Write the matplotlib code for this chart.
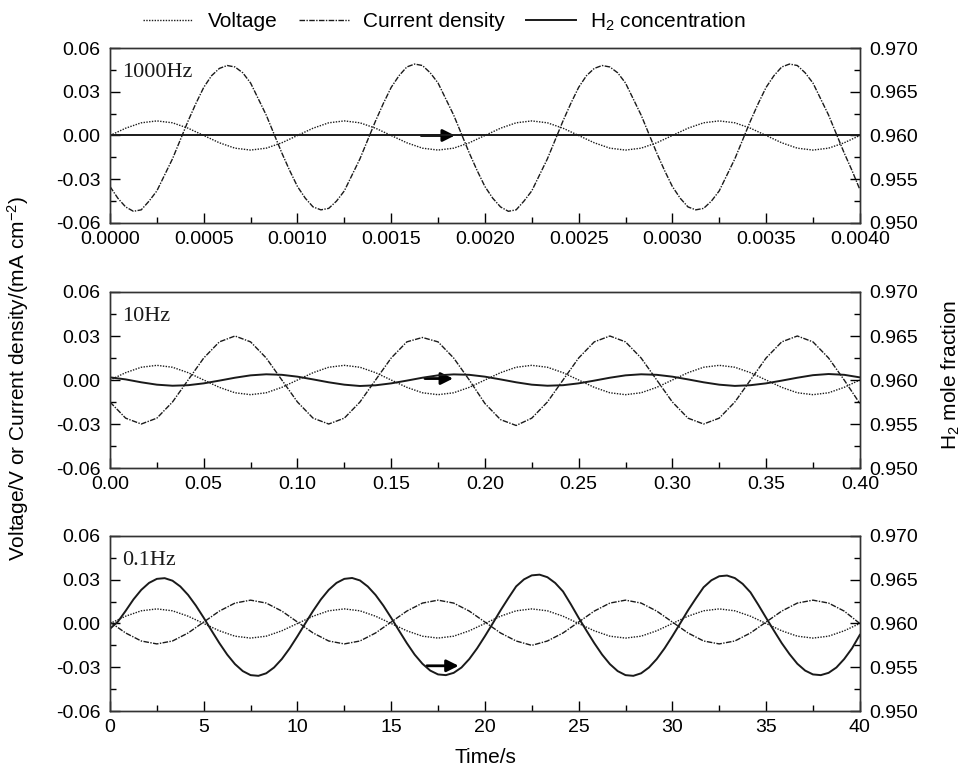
import matplotlib
matplotlib.use("Agg")
import matplotlib.pyplot as plt
import numpy as np
from matplotlib.ticker import MultipleLocator, FormatStrFormatter

plt.rcParams["font.family"] = ["Liberation Sans", "DejaVu Sans"]
plt.rcParams["mathtext.fontset"] = "custom"
plt.rcParams["mathtext.rm"] = "Liberation Sans"
plt.rcParams["mathtext.it"] = "Liberation Sans:italic"
plt.rcParams["axes.unicode_minus"] = False

# ---- data ----
panel_labels = ["1000Hz", "10Hz", "0.1Hz"]
# 12 samples per period (4 periods per panel)
t_1000 = np.linspace(0, 0.004, 49)
t_10 = np.linspace(0, 0.4, 49)
t_01 = np.linspace(0, 40, 49)
# 24 samples per period for the large, smooth curves
t_1000_fine = np.linspace(0, 0.004, 97)
t_01_fine = np.linspace(0, 40, 97)

voltage = [0.0, 0.005, 0.0087, 0.010, 0.0087, 0.005, 0.0, -0.005, -0.0087, -0.010, -0.0087, -0.005,
           0.0, 0.005, 0.0087, 0.010, 0.0087, 0.005, 0.0, -0.005, -0.0087, -0.010, -0.0087, -0.005,
           0.0, 0.005, 0.0087, 0.010, 0.0087, 0.005, 0.0, -0.005, -0.0087, -0.010, -0.0087, -0.005,
           0.0, 0.005, 0.0087, 0.010, 0.0087, 0.005, 0.0, -0.005, -0.0087, -0.010, -0.0087, -0.005,
           0.0]

cd_1000 = [-0.035, -0.043, -0.049, -0.052, -0.051, -0.045, -0.038, -0.027, -0.016, -0.003, 0.010, 0.022,
           0.033, 0.041, 0.046, 0.048, 0.047, 0.043, 0.036, 0.025, 0.014, 0.001, -0.012, -0.024,
           -0.035, -0.043, -0.049, -0.051, -0.050, -0.045, -0.038, -0.027, -0.016, -0.003, 0.010, 0.022,
           0.033, 0.041, 0.047, 0.049, 0.048, 0.043, 0.036, 0.025, 0.014, 0.001, -0.012, -0.024,
           -0.035, -0.043, -0.049, -0.052, -0.051, -0.045, -0.038, -0.027, -0.016, -0.003, 0.010, 0.022,
           0.033, 0.041, 0.046, 0.048, 0.047, 0.043, 0.036, 0.025, 0.014, 0.001, -0.012, -0.024,
           -0.035, -0.043, -0.049, -0.051, -0.050, -0.045, -0.038, -0.027, -0.016, -0.003, 0.010, 0.022,
           0.033, 0.041, 0.047, 0.049, 0.048, 0.043, 0.036, 0.025, 0.014, 0.001, -0.012, -0.024,
           -0.037]
h2_1000 = [0.960, 0.960, 0.960, 0.960, 0.960, 0.960, 0.960, 0.960, 0.960, 0.960, 0.960, 0.960,
           0.960, 0.960, 0.960, 0.960, 0.960, 0.960, 0.960, 0.960, 0.960, 0.960, 0.960, 0.960,
           0.960, 0.960, 0.960, 0.960, 0.960, 0.960, 0.960, 0.960, 0.960, 0.960, 0.960, 0.960,
           0.960, 0.960, 0.960, 0.960, 0.960, 0.960, 0.960, 0.960, 0.960, 0.960, 0.960, 0.960,
           0.960]

cd_10 = [-0.015, -0.026, -0.030, -0.026, -0.015, 0.000, 0.015, 0.026, 0.030, 0.026, 0.015, 0.000,
         -0.015, -0.026, -0.030, -0.026, -0.015, 0.000, 0.015, 0.026, 0.029, 0.026, 0.015, 0.000,
         -0.016, -0.027, -0.031, -0.026, -0.015, 0.000, 0.015, 0.026, 0.030, 0.026, 0.015, 0.000,
         -0.015, -0.026, -0.030, -0.026, -0.015, 0.000, 0.015, 0.026, 0.030, 0.026, 0.015, 0.000,
         -0.016]
h2_10 = [0.96030, 0.96007, 0.95974, 0.95947, 0.95935, 0.95941, 0.95962, 0.95993, 0.96026, 0.96053, 0.96065, 0.96059,
         0.96038, 0.96007, 0.95974, 0.95947, 0.95932, 0.95940, 0.95962, 0.95993, 0.96026, 0.96053, 0.96064, 0.96059,
         0.96038, 0.96007, 0.95974, 0.95947, 0.95935, 0.95941, 0.95962, 0.95993, 0.96026, 0.96053, 0.96065, 0.96059,
         0.96038, 0.96007, 0.95974, 0.95947, 0.95933, 0.95941, 0.95962, 0.95993, 0.96026, 0.96055, 0.96068, 0.96059,
         0.96030]

cd_01 = [0.001, -0.0065, -0.012, -0.014, -0.012, -0.0065, 0.001, 0.0085, 0.014, 0.016, 0.014, 0.0085,
         0.001, -0.0065, -0.012, -0.014, -0.012, -0.0065, 0.001, 0.0085, 0.014, 0.016, 0.014, 0.0085,
         0.001, -0.0065, -0.012, -0.015, -0.012, -0.0065, 0.001, 0.0085, 0.014, 0.016, 0.014, 0.0085,
         0.001, -0.0065, -0.012, -0.014, -0.012, -0.0065, 0.001, 0.0085, 0.014, 0.016, 0.014, 0.0085,
         0.000]
h2_01 = [0.95940, 0.96020, 0.96144, 0.96275, 0.96384, 0.96464, 0.96510, 0.96518, 0.96489, 0.96423, 0.96326, 0.96204,
         0.96065, 0.95919, 0.95776, 0.95645, 0.95536, 0.95456, 0.95410, 0.95402, 0.95431, 0.95497, 0.95594, 0.95716,
         0.95855, 0.96001, 0.96144, 0.96275, 0.96384, 0.96464, 0.96510, 0.96520, 0.96492, 0.96423, 0.96326, 0.96204,
         0.96065, 0.95919, 0.95776, 0.95645, 0.95540, 0.95462, 0.95418, 0.95410, 0.95436, 0.95497, 0.95594, 0.95716,
         0.95855, 0.96001, 0.96150, 0.96290, 0.96424, 0.96504, 0.96550, 0.96558, 0.96529, 0.96463, 0.96366, 0.96220,
         0.96065, 0.95919, 0.95776, 0.95645, 0.95536, 0.95456, 0.95410, 0.95402, 0.95431, 0.95497, 0.95594, 0.95716,
         0.95855, 0.96001, 0.96150, 0.96285, 0.96414, 0.96494, 0.96540, 0.96548, 0.96519, 0.96453, 0.96356, 0.96214,
         0.96065, 0.95919, 0.95776, 0.95650, 0.95540, 0.95462, 0.95418, 0.95410, 0.95436, 0.95497, 0.95594, 0.95716,
         0.95870]

v_times = [t_1000, t_10, t_01]
cd_times = [t_1000_fine, t_10, t_01]
h2_times = [t_1000, t_10, t_01_fine]
cds = [cd_1000, cd_10, cd_01]
h2s = [h2_1000, h2_10, h2_01]

# arrow (start x, end x, y on left axis) pointing to the H2 curve
arrow_x0 = [0.00166, 0.168, 16.9]
arrow_x1 = [0.00184, 0.183, 18.6]
arrow_y = [0.0, 0.001, -0.029]

x_lims = [(0, 0.004), (0, 0.4), (0, 40)]
x_major = [0.0005, 0.05, 5]
x_fmt = ["%.4f", "%.2f", "%d"]

fig = plt.figure(figsize=(9.65, 7.67), dpi=100)
rects = [[0.114, 0.7093, 0.777, 0.2281],
         [0.114, 0.3898, 0.777, 0.2295],
         [0.114, 0.0730, 0.777, 0.2282]]

ink = "#1a1a1a"
handles = None
for i in range(3):
    ax = fig.add_axes(rects[i])
    ax2 = ax.twinx()
    lv, = ax.plot(v_times[i], voltage, color=ink, lw=1.0, linestyle=(0, (1, 1)))
    lc, = ax.plot(cd_times[i], cds[i], color=ink, lw=1.0, linestyle=(0, (4, 1, 1, 1)))
    lh, = ax2.plot(h2_times[i], h2s[i], color=ink, lw=1.4)
    if handles is None:
        handles = [lv, lc, lh]

    ax.set_xlim(*x_lims[i])
    ax.set_ylim(-0.06, 0.06)
    ax2.set_ylim(0.950, 0.970)

    ax.xaxis.set_major_locator(MultipleLocator(x_major[i]))
    ax.xaxis.set_minor_locator(MultipleLocator(x_major[i] / 2))
    ax.xaxis.set_major_formatter(FormatStrFormatter(x_fmt[i]))
    ax.yaxis.set_major_locator(MultipleLocator(0.03))
    ax.yaxis.set_minor_locator(MultipleLocator(0.015))
    ax.yaxis.set_major_formatter(FormatStrFormatter("%.2f"))
    ax2.yaxis.set_major_locator(MultipleLocator(0.005))
    ax2.yaxis.set_minor_locator(MultipleLocator(0.0025))
    ax2.yaxis.set_major_formatter(FormatStrFormatter("%.3f"))

    ax.tick_params(axis="both", which="major", direction="in", length=7, width=1,
                   labelsize=14, pad=6, top=False, right=False)
    ax.tick_params(axis="both", which="minor", direction="in", length=4, width=1,
                   top=False, right=False)
    ax.tick_params(axis="y", which="major", pad=7)
    ax2.tick_params(axis="y", which="major", direction="in", length=7, width=1,
                    labelsize=14, pad=7)
    ax2.tick_params(axis="y", which="minor", direction="in", length=4, width=1)
    for a in (ax, ax2):
        for s in a.spines.values():
            s.set_color("#333333")
            s.set_linewidth(1.0)

    ax.text(0.016, 0.86, panel_labels[i], transform=ax.transAxes, va="center", ha="left",
            fontsize=16, family=["Liberation Serif", "DejaVu Serif"], color=ink)
    ax.annotate("", xy=(arrow_x1[i], arrow_y[i]), xytext=(arrow_x0[i], arrow_y[i]),
                arrowprops=dict(arrowstyle="-|>", color="black", lw=2.0, mutation_scale=18,
                                shrinkA=0, shrinkB=0))

fig.legend(handles, ["Voltage", "Current density", "H$_2$ concentration"],
           loc="center", bbox_to_anchor=(0.461, 0.972), ncol=3, frameon=False,
           fontsize=15, handlelength=2.4, columnspacing=1.0, handletextpad=0.7)

fig.text(0.019, 0.507, "Voltage/V or Current density/(mA cm$^{-2}$)", rotation=90,
         ha="center", va="center", fontsize=15)
fig.text(0.985, 0.511, "H$_2$ mole fraction", rotation=90, ha="center", va="center", fontsize=15)
fig.text(0.503, 0.013, "Time/s", ha="center", va="center", fontsize=15)

fig.savefig("out.png", dpi=100)
